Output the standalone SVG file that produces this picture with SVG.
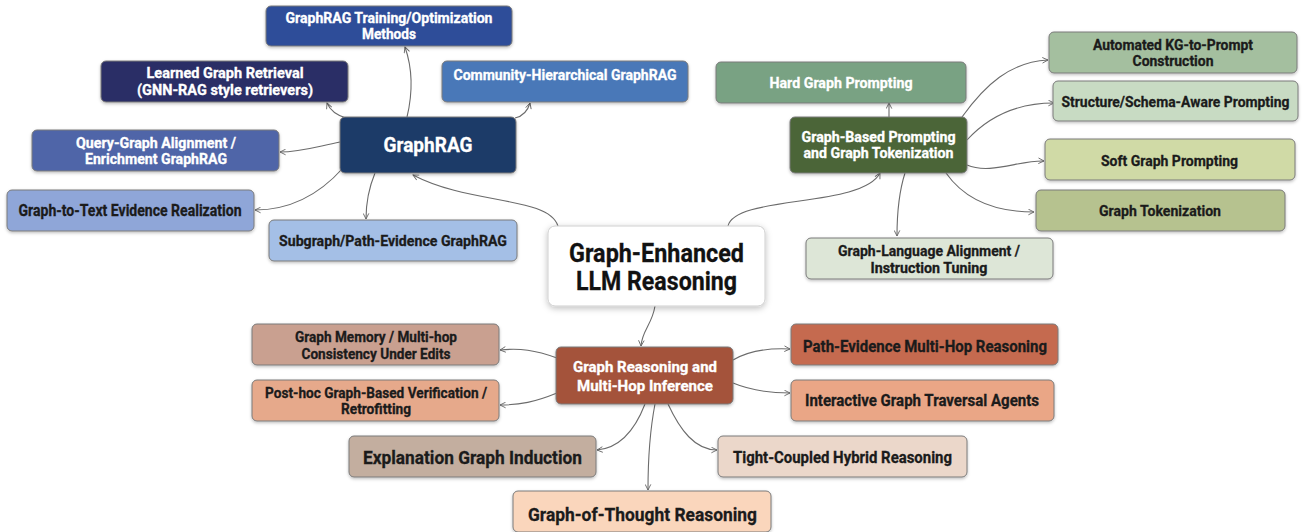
<svg xmlns="http://www.w3.org/2000/svg" width="1305" height="532" viewBox="0 0 1305 532">
<defs>
<filter id="sh" x="-10%" y="-20%" width="120%" height="150%">
<feDropShadow dx="0" dy="1.5" stdDeviation="1.5" flood-color="#000" flood-opacity="0.25"/>
</filter>
<filter id="sh2" x="-10%" y="-20%" width="120%" height="150%">
<feDropShadow dx="0" dy="2" stdDeviation="3" flood-color="#000" flood-opacity="0.25"/>
</filter>
<marker id="arr" viewBox="0 0 10 10" refX="9" refY="5" markerWidth="7" markerHeight="7" markerUnits="userSpaceOnUse" orient="auto">
<path d="M1,1 L9,5 L1,9" fill="none" stroke="#666" stroke-width="1.3"/>
</marker>
</defs>
<style>
rect{stroke:#7a7a7a;stroke-width:1;filter:url(#sh)}
text{font-family:"Roboto","Liberation Sans",sans-serif;font-weight:bold;text-anchor:middle}
.w{fill:#ffffff;stroke:#ffffff;stroke-width:0.3}
.d{fill:#1b1b1b;stroke:#1b1b1b;stroke-width:0.3}
.t{font-size:14px}
.s{font-size:15px}
.m{font-size:16px}
.l{font-size:19px}
#edges path{fill:none;stroke:#6b6b6b;stroke-width:1.1;marker-end:url(#arr)}
</style>
<rect x="0" y="0" width="1305" height="532" fill="#ffffff" style="stroke:none;filter:none"/>

<g id="edges">
<path d="M407,117 C413,92 413,70 405,47"/>
<path d="M346,118 C336,115 330,110 327,103"/>
<path d="M515,118 C524,116 528,110 530,103"/>
<path d="M340,142 C315,147 300,152 280,152"/>
<path d="M343,168 C318,196 290,210 255,210"/>
<path d="M375,173 C368,190 366,205 366,219"/>
<path d="M558,226 C548,196 470,205 413,175"/>
<path d="M728,226 C735,195 862,208 880,173"/>
<path d="M889,117 L889,103"/>
<path d="M962,117 C985,85 1010,62 1048,60"/>
<path d="M967,140 C990,115 1020,103 1054,103"/>
<path d="M967,165 C990,175 1020,160 1044,161"/>
<path d="M946,173 C965,200 995,212 1034,212"/>
<path d="M905,173 C898,195 897,215 897,236"/>
<path d="M655,306 C652,325 642,330 641,346"/>
<path d="M557,358 C535,350 520,348 500,350"/>
<path d="M557,393 C535,402 520,405 500,405"/>
<path d="M645,404 C635,430 620,448 597,450"/>
<path d="M655,404 C650,430 648,460 648,490"/>
<path d="M668,404 C680,430 695,450 717,450"/>
<path d="M733,360 C750,350 770,348 790,349"/>
<path d="M733,383 C750,390 770,393 790,393"/>
</g>

<g id="n-training"><rect x="266" y="6" width="246" height="40" rx="5" fill="#2d4e99"/>
<text class="w t" x="389" y="22.75" textLength="207" lengthAdjust="spacingAndGlyphs">GraphRAG Training/Optimization</text>
<text class="w t" x="389" y="39.25" textLength="54" lengthAdjust="spacingAndGlyphs">Methods</text></g>

<g id="n-learned"><rect x="101" y="61" width="247" height="41" rx="5" fill="#2b2e66"/>
<text class="w t" x="225" y="78.25" textLength="157" lengthAdjust="spacingAndGlyphs">Learned Graph Retrieval</text>
<text class="w t" x="225" y="94.75" textLength="176" lengthAdjust="spacingAndGlyphs">(GNN-RAG style retrievers)</text></g>

<g id="n-community"><rect x="442" y="61" width="246" height="41" rx="5" fill="#4a78b8"/>
<text class="w s" x="565" y="80" textLength="223" lengthAdjust="spacingAndGlyphs">Community-Hierarchical GraphRAG</text></g>

<g id="n-graphrag"><rect x="340" y="117" width="176" height="56" rx="5" fill="#1f3a68"/>
<text class="w" x="428" y="152" style="font-size:21px" textLength="89" lengthAdjust="spacingAndGlyphs">GraphRAG</text></g>

<g id="n-query"><rect x="32" y="130" width="247" height="41" rx="5" fill="#5065a8"/>
<text class="w t" x="156" y="147.75" textLength="160" lengthAdjust="spacingAndGlyphs">Query-Graph Alignment /</text>
<text class="w t" x="156" y="164.25" textLength="142" lengthAdjust="spacingAndGlyphs">Enrichment GraphRAG</text></g>

<g id="n-g2t"><rect x="7" y="190" width="247" height="41" rx="5" fill="#8fa6d8"/>
<text class="d m" x="130" y="215.5" textLength="223" lengthAdjust="spacingAndGlyphs">Graph-to-Text Evidence Realization</text></g>

<g id="n-subgraph"><rect x="269" y="220" width="248" height="41" rx="5" fill="#a4bfe6"/>
<text class="d s" x="393" y="245.5" textLength="228" lengthAdjust="spacingAndGlyphs">Subgraph/Path-Evidence GraphRAG</text></g>

<g id="n-center"><rect x="548" y="226" width="217" height="80" rx="7" fill="#ffffff" style="stroke:#cfcfcf;filter:url(#sh2)"/>
<text class="d" x="656.5" y="261.5" style="font-size:25px;fill:#111" textLength="175" lengthAdjust="spacingAndGlyphs">Graph-Enhanced</text>
<text class="d" x="656.5" y="289.5" style="font-size:25px;fill:#111" textLength="161" lengthAdjust="spacingAndGlyphs">LLM Reasoning</text></g>

<g id="n-hard"><rect x="716" y="62" width="250" height="41" rx="5" fill="#79a283"/>
<text class="w s" x="841" y="87.5" textLength="143" lengthAdjust="spacingAndGlyphs">Hard Graph Prompting</text></g>

<g id="n-gbp"><rect x="790" y="117" width="177" height="56" rx="5" fill="#4b6537"/>
<text class="w t" x="878.5" y="141.75" textLength="154" lengthAdjust="spacingAndGlyphs">Graph-Based Prompting</text>
<text class="w t" x="878.5" y="158.25" textLength="150" lengthAdjust="spacingAndGlyphs">and Graph Tokenization</text></g>

<g id="n-auto"><rect x="1049" y="32" width="248" height="41" rx="5" fill="#a4bf9f"/>
<text class="d t" x="1173" y="49.75" textLength="160" lengthAdjust="spacingAndGlyphs">Automated KG-to-Prompt</text>
<text class="d t" x="1173" y="66.25" textLength="81" lengthAdjust="spacingAndGlyphs">Construction</text></g>

<g id="n-structure"><rect x="1053" y="81" width="245" height="40" rx="5" fill="#c8dbc3"/>
<text class="d s" x="1175.5" y="106.5" textLength="228" lengthAdjust="spacingAndGlyphs">Structure/Schema-Aware Prompting</text></g>

<g id="n-soft"><rect x="1045" y="139" width="250" height="41" rx="5" fill="#d0daa6"/>
<text class="d s" x="1169.5" y="165.5" textLength="137" lengthAdjust="spacingAndGlyphs">Soft Graph Prompting</text></g>

<g id="n-tok"><rect x="1036" y="190" width="249" height="41" rx="5" fill="#b6c28f"/>
<text class="d s" x="1160" y="215.5" textLength="122" lengthAdjust="spacingAndGlyphs">Graph Tokenization</text></g>

<g id="n-gla"><rect x="806" y="238" width="247" height="41" rx="5" fill="#dde6d7"/>
<text class="d t" x="929" y="256.25" textLength="182" lengthAdjust="spacingAndGlyphs">Graph-Language Alignment /</text>
<text class="d t" x="929" y="272.75" textLength="117" lengthAdjust="spacingAndGlyphs">Instruction Tuning</text></g>

<g id="n-gr"><rect x="556" y="347" width="177" height="57" rx="5" fill="#a4523a"/>
<text class="w s" x="645" y="372" textLength="144" lengthAdjust="spacingAndGlyphs">Graph Reasoning and</text>
<text class="w s" x="645" y="391" textLength="136" lengthAdjust="spacingAndGlyphs">Multi-Hop Inference</text></g>

<g id="n-memory"><rect x="252" y="324" width="247" height="41" rx="5" fill="#c9a090"/>
<text class="d t" x="376" y="342.25" textLength="162" lengthAdjust="spacingAndGlyphs">Graph Memory / Multi-hop</text>
<text class="d t" x="376" y="358.75" textLength="149" lengthAdjust="spacingAndGlyphs">Consistency Under Edits</text></g>

<g id="n-posthoc"><rect x="252" y="380" width="247" height="41" rx="5" fill="#e6a98b"/>
<text class="d t" x="376" y="397.75" textLength="222" lengthAdjust="spacingAndGlyphs">Post-hoc Graph-Based Verification /</text>
<text class="d t" x="376" y="414.25" textLength="70" lengthAdjust="spacingAndGlyphs">Retrofitting</text></g>

<g id="n-explain"><rect x="349" y="436" width="247" height="41" rx="5" fill="#c3ae9f"/>
<text class="d l" x="472.5" y="463.5" textLength="219" lengthAdjust="spacingAndGlyphs">Explanation Graph Induction</text></g>

<g id="n-got"><rect x="513" y="491" width="258" height="41" rx="5" fill="#fad6bc"/>
<text class="d l" x="642.5" y="520.5" textLength="229" lengthAdjust="spacingAndGlyphs">Graph-of-Thought Reasoning</text></g>

<g id="n-tight"><rect x="718" y="436" width="249" height="41" rx="5" fill="#ebd7ca"/>
<text class="d m" x="842.5" y="462.5" textLength="219" lengthAdjust="spacingAndGlyphs">Tight-Coupled Hybrid Reasoning</text></g>

<g id="n-path"><rect x="791" y="324" width="267" height="41" rx="5" fill="#c56b50"/>
<text class="d m" x="925" y="351.5" textLength="244" lengthAdjust="spacingAndGlyphs">Path-Evidence Multi-Hop Reasoning</text></g>

<g id="n-interactive"><rect x="791" y="380" width="263" height="41" rx="5" fill="#eaa686"/>
<text class="d m" x="922" y="406" textLength="234" lengthAdjust="spacingAndGlyphs">Interactive Graph Traversal Agents</text></g>
</svg>
